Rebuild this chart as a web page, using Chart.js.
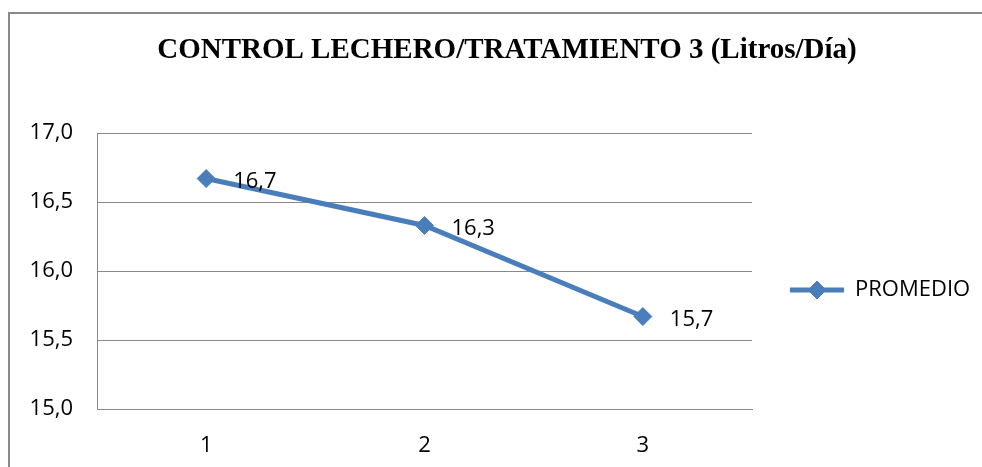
<!DOCTYPE html>
<html><head><meta charset="utf-8">
<script src="https://cdn.jsdelivr.net/npm/chart.js@4/dist/chart.umd.min.js"></script>
<style>
html,body{margin:0;padding:0;background:#fff;overflow:hidden;width:982px;height:467px}
#frame{position:absolute;left:8px;top:12px;width:1100px;height:600px;border:2px solid #8a8a8a;box-sizing:border-box}
#c{position:absolute;left:0;top:0}
</style></head><body>
<div id="frame"></div>
<canvas id="c" width="982" height="467"></canvas>
<script>
const categories = ['1', '2', '3'];
const promedio = [16.67, 16.33, 15.67];
const seriesName = 'PROMEDIO';
const yTicks = [15.0, 15.5, 16.0, 16.5, 17.0];
const titleText = 'CONTROL LECHERO/TRATAMIENTO 3 (Litros/Día)';

const fmt = v => Number(v).toFixed(1).replace('.', ',');
const BLUE = '#4A7EBB';
const GRID = '#898989';
const SANS = '"Open Sans", "Liberation Sans", sans-serif';
const LEGEND_W = 242;

const legendWidthFix = {
  id: 'legendWidthFix',
  beforeLayout(chart) {
    const lg = chart.legend;
    if (lg && !lg._wfix) {
      const f = lg.fit;
      lg.fit = function () { f.call(this); if (!this.isHorizontal()) this.width = LEGEND_W; };
      lg._wfix = true;
    }
  }
};

const valueLabels = {
  id: 'valueLabels',
  afterDatasetsDraw(chart) {
    const ctx = chart.ctx;
    chart.data.datasets.forEach((ds, i) => {
      const meta = chart.getDatasetMeta(i);
      ctx.save();
      ctx.font = '22px ' + SANS;
      ctx.fillStyle = '#000';
      ctx.textAlign = 'left';
      ctx.textBaseline = 'middle';
      meta.data.forEach((pt, j) => {
        ctx.fillText(fmt(ds.data[j]), pt.x + 27, pt.y + 3);
      });
      ctx.restore();
    });
  }
};

const legendMarker = {
  id: 'legendMarker',
  afterDraw(chart) {
    const lg = chart.legend;
    if (!lg || !lg.legendHitBoxes) return;
    const ds = chart.data.datasets[0];
    const ctx = chart.ctx;
    const bw = lg.options.labels.boxWidth;
    lg.legendHitBoxes.forEach(hb => {
      ctx.save();
      ctx.fillStyle = ds.pointBackgroundColor;
      ctx.strokeStyle = ds.pointBorderColor;
      ctx.lineWidth = ds.pointBorderWidth;
      Chart.helpers.drawPoint(ctx, {pointStyle: ds.pointStyle, radius: ds.pointRadius, borderWidth: ds.pointBorderWidth, rotation: 0}, hb.left + bw / 2, hb.top + hb.height / 2);
      ctx.restore();
    });
  }
};

new Chart(document.getElementById('c'), {
  type: 'line',
  data: {
    labels: categories,
    datasets: [{
      label: seriesName,
      data: promedio,
      borderColor: BLUE,
      backgroundColor: BLUE,
      borderWidth: 5,
      pointStyle: 'rectRot',
      pointRadius: 9,
      pointHoverRadius: 9,
      pointBackgroundColor: BLUE,
      pointBorderColor: BLUE,
      pointBorderWidth: 1,
      tension: 0,
      fill: false
    }]
  },
  options: {
    responsive: false,
    animation: false,
    devicePixelRatio: 1,
    events: [],
    layout: {padding: {left: 20, right: -12, top: 0, bottom: 0}},
    plugins: {
      tooltip: {enabled: false},
      title: {
        display: true,
        text: titleText,
        color: '#000',
        font: {family: '"Liberation Serif", "Times New Roman", serif', size: 29, weight: 'bold'},
        padding: {top: 33.6, bottom: 64.6}
      },
      legend: {
        position: 'right',
        fullSize: false,
        title: {display: true, text: ' ', padding: 13, font: {size: 10}},
        labels: {
          boxWidth: 54,
          boxHeight: 5,
          padding: 38,
          color: '#000',
          font: {family: SANS, size: 22},
          generateLabels(chart) {
            const items = Chart.defaults.plugins.legend.labels.generateLabels(chart);
            items.forEach(it => { it.lineWidth = 0; it.fillStyle = BLUE; });
            return items;
          }
        }
      }
    },
    scales: {
      x: {
        type: 'category',
        offset: true,
        grid: {display: false, drawTicks: false},
        border: {display: true, color: GRID, width: 1},
        ticks: {color: '#000', font: {family: SANS, size: 22}, padding: 24},
        afterFit(s) { s.height = 58; }
      },
      y: {
        min: 15,
        max: 17,
        afterBuildTicks(s) { s.ticks = yTicks.map(v => ({value: v})); },
        ticks: {color: '#000', font: {family: SANS, size: 22}, padding: 24, callback: v => fmt(v)},
        grid: {color: GRID, drawTicks: false, lineWidth: 1},
        border: {display: true, color: GRID, width: 1},
        afterFit(s) { s.width = 77; }
      }
    }
  },
  plugins: [legendWidthFix, valueLabels, legendMarker]
});
</script>
</body></html>
